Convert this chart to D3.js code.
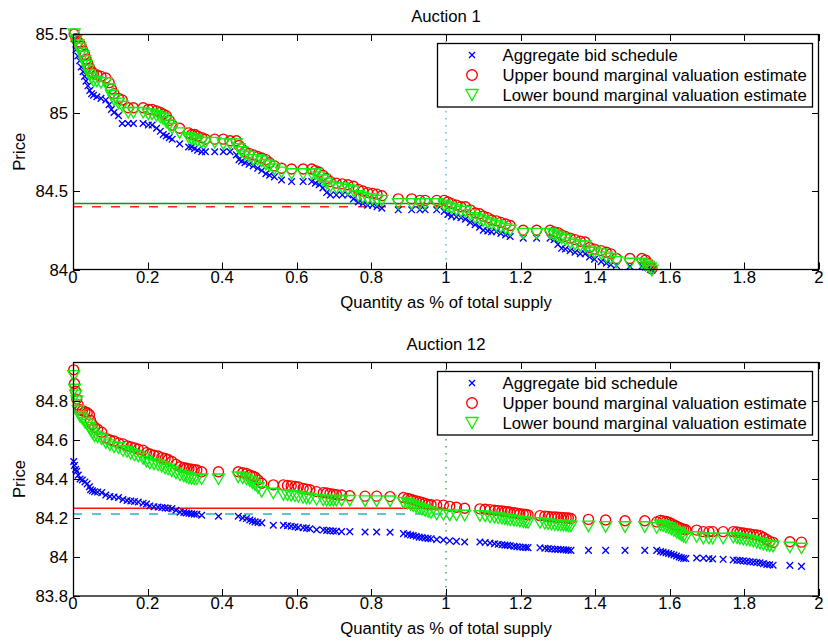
<!DOCTYPE html>
<html>
<head>
<meta charset="utf-8">
<script src="https://cdn.jsdelivr.net/npm/d3@7/dist/d3.min.js"></script>
<style>
  html, body { margin: 0; padding: 0; background: #fff; }
  svg text { font-family: "Liberation Sans", Arial, Helvetica, sans-serif; fill: #000; }
</style>
</head>
<body>
<svg id="chart" width="828" height="644"></svg>
<script>
// ---------------- DATA ----------------
const xTickValues = [0, 0.2, 0.4, 0.6, 0.8, 1, 1.2, 1.4, 1.6, 1.8, 2];
const xTickLabels = ["0", "0.2", "0.4", "0.6", "0.8", "1", "1.2", "1.4", "1.6", "1.8", "2"];
const yTicks1 = [84, 84.5, 85, 85.5];
const yTickLabels1 = ["84", "84.5", "85", "85.5"];
const yTicks12 = [83.8, 84, 84.2, 84.4, 84.6, 84.8, 85];
const yTickLabels12 = ["83.8", "84", "84.2", "84.4", "84.6", "84.8", ""];
const legendLabels = ["Aggregate bid schedule", "Upper bound marginal valuation estimate", "Lower bound marginal valuation estimate"];
const titles = ["Auction 1", "Auction 12"];

// Auction 1
const qty1 = [0.003,0.008,0.013,0.018,0.022,0.027,0.031,0.035,0.040,0.045,0.050,0.055,0.064,0.075,0.088,0.097,0.103,0.110,0.122,0.132,
  0.148,0.162,0.188,0.202,0.212,0.224,0.234,0.242,0.250,0.258,0.266,0.286,0.310,0.318,0.326,0.334,0.345,0.355,0.380,0.403,
  0.421,0.438,0.445,0.452,0.461,0.472,0.483,0.495,0.506,0.517,0.527,0.540,0.559,0.586,0.617,0.640,0.650,0.660,0.670,0.680,
  0.690,0.706,0.722,0.737,0.752,0.765,0.777,0.790,0.803,0.815,0.828,0.872,0.908,0.930,0.944,0.975,0.995,1.005,1.015,1.028,
  1.040,1.052,1.065,1.078,1.090,1.100,1.112,1.122,1.135,1.147,1.160,1.172,1.207,1.243,1.279,1.290,1.300,1.310,1.320,1.333,
  1.346,1.360,1.373,1.385,1.398,1.416,1.430,1.442,1.457,1.493,1.525,1.535,1.542,1.548,1.552];
const upper1 = [85.50,85.47,85.45,85.44,85.42,85.39,85.37,85.34,85.31,85.28,85.26,85.25,85.24,85.23,85.22,85.19,85.15,85.12,85.09,85.08,
  85.03,85.03,85.03,85.02,85.02,85.01,85.00,84.99,84.98,84.95,84.92,84.90,84.87,84.86,84.86,84.85,84.84,84.83,84.83,84.83,
  84.82,84.82,84.79,84.77,84.75,84.74,84.73,84.72,84.71,84.70,84.68,84.66,84.645,84.64,84.64,84.64,84.63,84.62,84.60,84.58,
  84.56,84.55,84.545,84.54,84.53,84.51,84.50,84.49,84.485,84.48,84.47,84.45,84.45,84.44,84.44,84.44,84.44,84.43,84.42,84.41,
  84.40,84.40,84.38,84.36,84.355,84.34,84.33,84.315,84.31,84.30,84.29,84.28,84.25,84.25,84.25,84.24,84.235,84.22,84.21,84.20,
  84.19,84.18,84.175,84.14,84.13,84.12,84.11,84.10,84.07,84.07,84.07,84.06,84.04,84.02,84.005];
const lower1 = [85.50,85.46,85.43,85.41,85.38,85.36,85.33,85.30,85.27,85.24,85.22,85.20,85.20,85.19,85.19,85.15,85.11,85.08,85.06,85.04,
  85.00,85.00,85.00,84.99,84.99,84.98,84.97,84.96,84.94,84.92,84.90,84.87,84.84,84.83,84.83,84.82,84.81,84.81,84.81,84.80,
  84.80,84.80,84.77,84.75,84.73,84.72,84.70,84.70,84.69,84.67,84.66,84.64,84.62,84.61,84.61,84.61,84.61,84.59,84.57,84.55,
  84.53,84.52,84.52,84.51,84.50,84.47,84.46,84.45,84.45,84.44,84.44,84.42,84.42,84.42,84.42,84.42,84.41,84.40,84.39,84.38,
  84.37,84.37,84.35,84.33,84.32,84.31,84.30,84.29,84.28,84.27,84.26,84.25,84.23,84.23,84.23,84.22,84.21,84.20,84.19,84.17,
  84.16,84.15,84.15,84.12,84.11,84.10,84.08,84.07,84.05,84.04,84.04,84.03,84.02,84.01,83.995];
const bid1 = [85.47,85.40,85.36,85.33,85.29,85.26,85.23,85.20,85.17,85.14,85.12,85.11,85.10,85.09,85.08,85.05,85.02,85.00,84.98,84.93,
  84.93,84.93,84.93,84.92,84.92,84.90,84.88,84.86,84.85,84.84,84.83,84.80,84.78,84.78,84.77,84.76,84.75,84.75,84.75,84.75,
  84.75,84.73,84.70,84.69,84.68,84.67,84.66,84.645,84.63,84.61,84.60,84.59,84.57,84.56,84.56,84.56,84.55,84.54,84.52,84.49,
  84.475,84.475,84.475,84.475,84.45,84.43,84.42,84.41,84.41,84.40,84.39,84.38,84.38,84.38,84.38,84.38,84.37,84.35,84.34,84.335,
  84.33,84.32,84.30,84.285,84.27,84.25,84.245,84.24,84.24,84.23,84.22,84.21,84.20,84.20,84.20,84.19,84.16,84.135,84.13,84.12,
  84.11,84.10,84.10,84.08,84.065,84.05,84.04,84.03,84.025,84.02,84.02,84.015,84.01,84.00,83.995];
const hLines1 = [84.42, 84.40];   // solid, dashed
const qMark1 = 1;

// Auction 12
const qty12 = [0.002,0.004,0.007,0.010,0.014,0.019,0.025,0.032,0.038,0.044,0.047,0.052,0.058,0.066,0.077,0.088,0.099,0.110,0.122,0.134,
  0.145,0.155,0.165,0.175,0.188,0.197,0.206,0.217,0.228,0.238,0.247,0.255,0.265,0.276,0.287,0.297,0.304,0.311,0.318,0.325,
  0.332,0.345,0.390,0.443,0.455,0.465,0.474,0.481,0.488,0.496,0.506,0.537,0.564,0.575,0.585,0.595,0.604,0.617,0.626,0.635,
  0.653,0.671,0.680,0.689,0.698,0.706,0.720,0.742,0.783,0.814,0.850,0.886,0.897,0.905,0.912,0.920,0.928,0.936,0.944,0.952,
  0.960,0.975,0.993,1.010,1.028,1.050,1.091,1.105,1.118,1.130,1.140,1.150,1.158,1.165,1.172,1.182,1.190,1.198,1.207,1.214,
  1.220,1.252,1.265,1.274,1.283,1.292,1.300,1.308,1.315,1.322,1.328,1.335,1.382,1.428,1.480,1.533,1.565,1.575,1.582,1.590,
  1.597,1.604,1.611,1.618,1.625,1.631,1.637,1.643,1.672,1.690,1.705,1.715,1.743,1.770,1.780,1.788,1.797,1.806,1.815,1.824,
  1.833,1.842,1.851,1.860,1.868,1.877,1.922,1.953];
const upper12 = [84.96,84.89,84.85,84.81,84.78,84.755,84.75,84.745,84.74,84.73,84.70,84.68,84.665,84.655,84.64,84.61,84.60,84.595,84.585,84.58,
  84.57,84.565,84.56,84.553,84.548,84.535,84.528,84.522,84.518,84.51,84.505,84.50,84.49,84.475,84.463,84.458,84.455,84.452,84.45,84.448,
  84.446,84.437,84.437,84.437,84.432,84.428,84.42,84.415,84.41,84.395,84.378,84.37,84.37,84.367,84.365,84.362,84.36,84.352,84.348,84.345,
  84.335,84.33,84.328,84.325,84.322,84.32,84.318,84.314,84.312,84.312,84.31,84.305,84.30,84.296,84.292,84.288,84.284,84.28,84.275,84.27,
  84.268,84.267,84.266,84.26,84.255,84.25,84.247,84.245,84.243,84.24,84.238,84.236,84.234,84.232,84.23,84.227,84.225,84.222,84.22,84.218,
  84.216,84.212,84.21,84.208,84.206,84.205,84.204,84.203,84.202,84.201,84.20,84.198,84.193,84.19,84.186,84.186,84.18,84.188,84.185,84.182,
  84.178,84.172,84.165,84.158,84.152,84.147,84.143,84.14,84.138,84.13,84.13,84.13,84.13,84.13,84.128,84.125,84.123,84.12,84.118,84.115,
  84.113,84.11,84.10,84.09,84.08,84.075,84.078,84.076];
const lower12 = [84.93,84.86,84.83,84.80,84.75,84.72,84.71,84.69,84.68,84.665,84.65,84.635,84.62,84.615,84.605,84.585,84.575,84.565,84.56,84.545,
  84.54,84.53,84.522,84.517,84.505,84.49,84.48,84.476,84.472,84.465,84.455,84.45,84.44,84.43,84.42,84.415,84.41,84.405,84.402,84.40,
  84.40,84.40,84.40,84.41,84.405,84.40,84.39,84.38,84.37,84.355,84.335,84.327,84.32,84.318,84.315,84.313,84.31,84.305,84.302,84.30,
  84.295,84.292,84.29,84.29,84.29,84.29,84.29,84.29,84.288,84.288,84.287,84.28,84.275,84.268,84.262,84.256,84.25,84.244,84.238,84.232,
  84.228,84.22,84.218,84.215,84.215,84.214,84.212,84.21,84.205,84.203,84.20,84.198,84.196,84.193,84.19,84.188,84.186,84.183,84.18,84.178,
  84.176,84.176,84.172,84.17,84.167,84.165,84.164,84.163,84.162,84.161,84.16,84.158,84.158,84.156,84.155,84.155,84.15,84.165,84.16,84.155,
  84.15,84.143,84.135,84.127,84.12,84.112,84.105,84.10,84.104,84.096,84.096,84.096,84.096,84.10,84.098,84.094,84.09,84.088,84.085,84.08,
  84.075,84.07,84.065,84.06,84.057,84.055,84.05,84.045];
const bid12 = [84.49,84.47,84.45,84.44,84.42,84.40,84.395,84.385,84.375,84.36,84.345,84.34,84.335,84.333,84.33,84.318,84.31,84.308,84.305,84.295,
  84.29,84.287,84.285,84.282,84.276,84.272,84.262,84.258,84.256,84.254,84.252,84.25,84.248,84.24,84.23,84.228,84.226,84.224,84.222,84.22,
  84.219,84.214,84.209,84.209,84.20,84.197,84.19,84.185,84.18,84.177,84.175,84.163,84.163,84.16,84.158,84.155,84.152,84.15,84.148,84.145,
  84.14,84.138,84.136,84.135,84.133,84.132,84.13,84.13,84.128,84.128,84.127,84.12,84.117,84.113,84.11,84.106,84.102,84.10,84.097,84.095,
  84.094,84.09,84.087,84.083,84.08,84.077,84.077,84.074,84.072,84.068,84.065,84.063,84.061,84.06,84.058,84.055,84.053,84.051,84.05,84.049,
  84.048,84.047,84.045,84.043,84.041,84.04,84.039,84.038,84.037,84.036,84.035,84.034,84.034,84.034,84.034,84.034,84.034,84.028,84.025,84.022,
  84.018,84.014,84.01,84.005,84.0,83.996,83.993,83.992,83.995,83.994,83.992,83.99,83.988,83.985,83.983,83.982,83.98,83.978,83.976,83.974,
  83.972,83.97,83.966,83.962,83.96,83.958,83.957,83.952];
const hLines12 = [84.25, 84.22];  // solid, dashed
const qMark12 = 1;

// ---------------- DRAWING ----------------
const svg = d3.select("#chart");
const FS = 16.7;
const colBid = "#0000ff", colUp = "#ff0000", colLo = "#11ee11";
const SW = 1.35;

const panels = [
  { top: 34, bottom: 269.5, yDomain: [84, 85.5], yTicks: yTicks1, yLabels: yTickLabels1,
    qty: qty1, up: upper1, lo: lower1, bid: bid1, h: hLines1, q: qMark1,
    solidCol: "#1e8a1e", dashCol: "#ff2020", vCol: "#33c4cc", title: titles[0], titleY: 21.5 },
  { top: 362, bottom: 596, yDomain: [83.8, 85], yTicks: yTicks12, yLabels: yTickLabels12,
    qty: qty12, up: upper12, lo: lower12, bid: bid12, h: hLines12, q: qMark12,
    solidCol: "#ff1010", dashCol: "#22b8c4", vCol: "#3a9a3a", title: titles[1], titleY: 350 }
];
const L = 73, R = 819;

const crossPath = "M-3.3,-3.3L3.3,3.3M-3.3,3.3L3.3,-3.3";
const triPath = "M-6,-5L6,-5L0,5.5Z";

panels.forEach(p => {
  const x = d3.scaleLinear().domain([0, 2]).range([L, R]);
  const y = d3.scaleLinear().domain(p.yDomain).range([p.bottom, p.top]);
  const g = svg.append("g");

  // reference lines
  g.append("line").attr("x1", x(0)).attr("x2", x(p.q)).attr("y1", y(p.h[0])).attr("y2", y(p.h[0]))
    .attr("stroke", p.solidCol).attr("stroke-width", 1.5);
  g.append("line").attr("x1", x(0)).attr("x2", x(p.q)).attr("y1", y(p.h[1])).attr("y2", y(p.h[1]))
    .attr("stroke", p.dashCol).attr("stroke-width", 1.5).attr("stroke-dasharray", "9,10");
  g.append("line").attr("x1", x(p.q)).attr("x2", x(p.q)).attr("y1", p.top).attr("y2", p.bottom)
    .attr("stroke", p.vCol).attr("stroke-width", 1.3).attr("stroke-dasharray", "1.5,5.5");

  // bid crosses
  g.append("g").selectAll("path").data(p.qty).join("path")
    .attr("transform", (d, i) => `translate(${x(d)},${y(p.bid[i])})`)
    .attr("d", crossPath).attr("stroke", colBid).attr("stroke-width", SW).attr("fill", "none");
  // upper circles
  g.append("g").selectAll("circle").data(p.qty).join("circle")
    .attr("cx", d => x(d)).attr("cy", (d, i) => y(p.up[i])).attr("r", 5)
    .attr("stroke", colUp).attr("stroke-width", SW).attr("fill", "none");
  // lower triangles
  g.append("g").selectAll("path").data(p.qty).join("path")
    .attr("transform", (d, i) => `translate(${x(d)},${y(p.lo[i])})`)
    .attr("d", triPath).attr("stroke", colLo).attr("stroke-width", SW).attr("fill", "none");

  // axes box
  g.append("rect").attr("x", L + 0.5).attr("y", p.top + 0.5).attr("width", R - L - 1).attr("height", p.bottom - p.top - 0.5)
    .attr("fill", "none").attr("stroke", "#000").attr("stroke-width", 1.3);

  // x ticks (inside, top and bottom) + labels
  const xt = g.append("g");
  xTickValues.forEach((v, i) => {
    const px = Math.round(x(v)) + 0.5;
    xt.append("line").attr("x1", px).attr("x2", px).attr("y1", p.bottom).attr("y2", p.bottom - 7).attr("stroke", "#000");
    xt.append("line").attr("x1", px).attr("x2", px).attr("y1", p.top).attr("y2", p.top + 7).attr("stroke", "#000");
    xt.append("text").attr("x", x(v)).attr("y", p.bottom + 13).attr("text-anchor", "middle")
      .attr("font-size", FS).text(xTickLabels[i]);
  });
  // y ticks
  const yt = g.append("g");
  p.yTicks.forEach((v, i) => {
    const py = Math.round(y(v)) + 0.5;
    yt.append("line").attr("x1", L).attr("x2", L + 7).attr("y1", py).attr("y2", py).attr("stroke", "#000");
    yt.append("line").attr("x1", R).attr("x2", R - 7).attr("y1", py).attr("y2", py).attr("stroke", "#000");
    if (p.yLabels[i]) {
      yt.append("text").attr("x", L - 5).attr("y", y(v) + 6).attr("text-anchor", "end")
        .attr("font-size", FS).text(p.yLabels[i]);
    }
  });

  // labels
  g.append("text").attr("x", (L + R) / 2).attr("y", p.titleY).attr("text-anchor", "middle")
    .attr("font-size", FS).text(p.title);
  g.append("text").attr("x", (L + R) / 2).attr("y", p.bottom + 38).attr("text-anchor", "middle")
    .attr("font-size", FS).text("Quantity as % of total supply");
  g.append("text").attr("transform", `translate(25,${(p.top + p.bottom) / 2}) rotate(-90)`)
    .attr("text-anchor", "middle").attr("font-size", FS).text("Price");

  // legend
  const lg = g.append("g").attr("transform", `translate(437,${p.top + 9})`);
  lg.append("rect").attr("x", 0.5).attr("y", 0.5).attr("width", 375).attr("height", 63.5)
    .attr("fill", "#fff").attr("stroke", "#000").attr("stroke-width", 1.3);
  const rows = [12, 32, 52];
  lg.append("path").attr("transform", `translate(35,${rows[0]})`).attr("d", "M-3,-3L3,3M-3,3L3,-3")
    .attr("stroke", colBid).attr("stroke-width", SW).attr("fill", "none");
  lg.append("circle").attr("cx", 35).attr("cy", rows[1]).attr("r", 5.3)
    .attr("stroke", colUp).attr("stroke-width", SW).attr("fill", "none");
  lg.append("path").attr("transform", `translate(35,${rows[2]})`).attr("d", "M-6,-5.5L6,-5.5L0,5.5Z")
    .attr("stroke", colLo).attr("stroke-width", SW).attr("fill", "none");
  legendLabels.forEach((t, i) => {
    lg.append("text").attr("x", 65.5).attr("y", rows[i] + 6).attr("font-size", FS).text(t);
  });
});
</script>
</body>
</html>
